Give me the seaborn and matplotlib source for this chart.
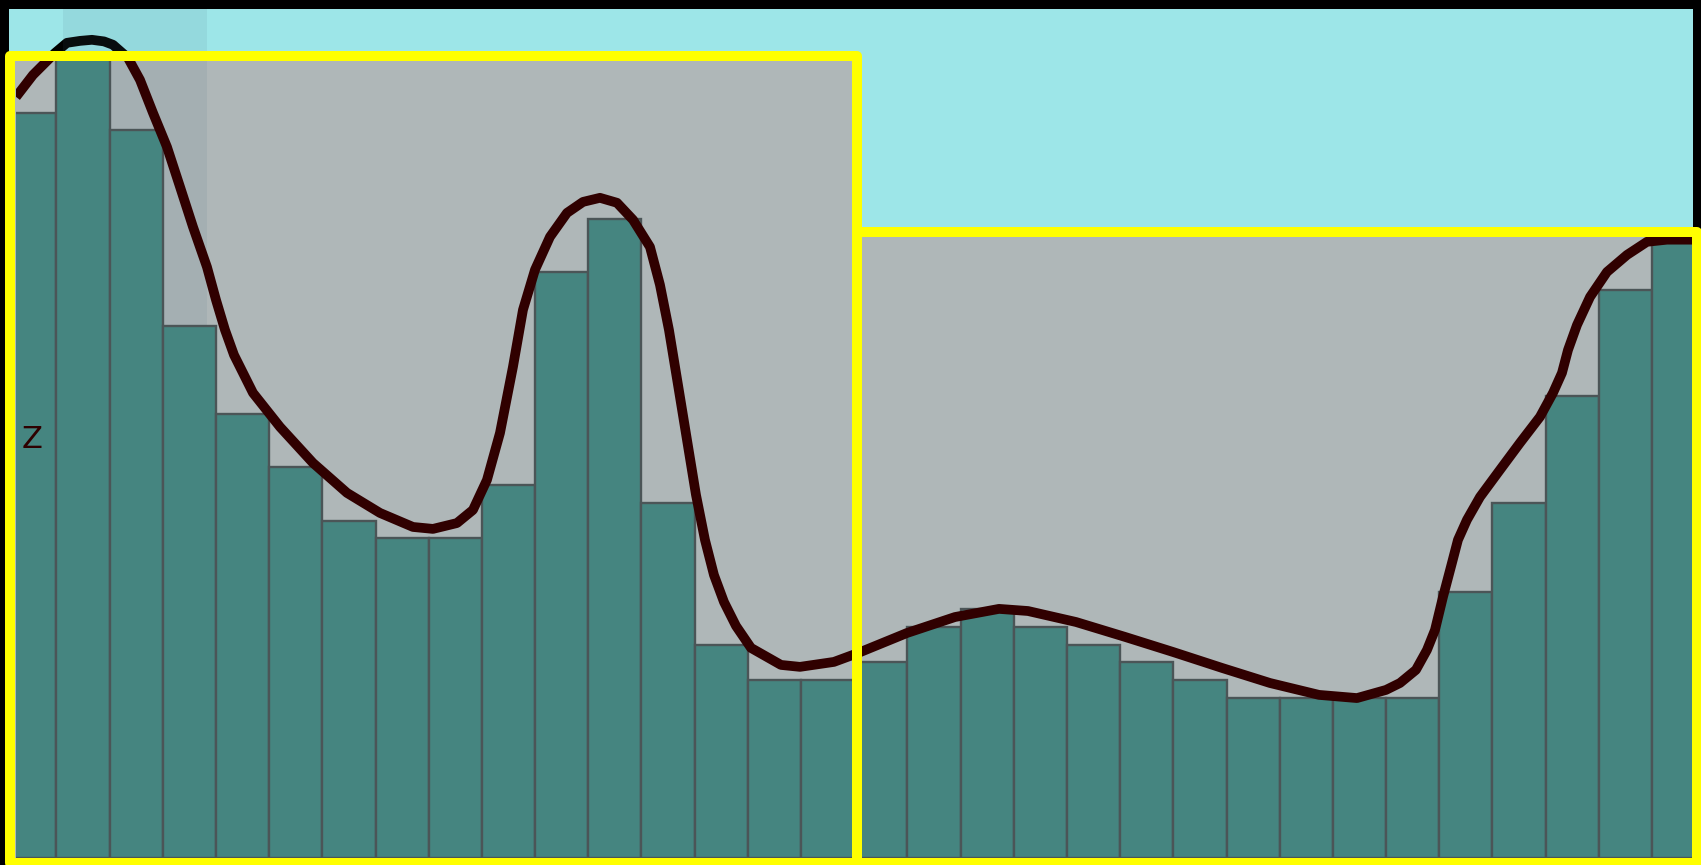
import numpy as np
import pandas as pd
import matplotlib
matplotlib.use("Agg")
import matplotlib.pyplot as plt
import seaborn as sns
from matplotlib.patches import Rectangle

# ---------------- data ----------------
bin_edges = list(range(33))
bin_centers = [i + 0.5 for i in range(32)]
counts = [42, 47, 41, 30, 25, 22, 19, 18, 18, 21, 33, 36, 20, 12, 10, 10,
          11, 13, 14, 13, 12, 11, 10, 9, 9, 9, 9, 15, 20, 26, 32, 34.7]

kde_x = [0.241, 0.560, 0.974, 1.199, 1.444, 1.669, 1.895, 2.064, 2.346, 2.572,
         2.816, 3.079, 3.324, 3.568, 3.831, 4.001, 4.170, 4.339, 4.696, 5.204,
         5.824, 6.464, 7.084, 7.704, 8.080, 8.531, 8.832, 9.095, 9.340, 9.584,
         9.772, 9.998, 10.280, 10.600, 10.901, 11.220, 11.540, 11.841, 12.160, 12.348,
         12.517, 12.687, 12.856, 13.025, 13.194, 13.363, 13.551, 13.777, 14.059, 14.623,
         14.980, 15.619, 16.071, 16.992, 17.894, 18.722, 19.267, 20.170, 21.091, 21.993,
         22.915, 23.817, 24.738, 25.452, 25.998, 26.261, 26.561, 26.768, 26.919, 27.069,
         27.238, 27.351, 27.520, 27.765, 28.141, 28.517, 28.893, 29.138, 29.307, 29.420,
         29.589, 29.834, 30.153, 30.529, 30.905, 31.281, 31.770]
kde_y = [42.89, 44.13, 45.37, 45.94, 46.05, 46.11, 46.02, 45.83, 45.09, 43.85,
         41.99, 40.07, 37.82, 35.56, 33.30, 31.44, 29.75, 28.34, 26.20, 24.28,
         22.25, 20.56, 19.43, 18.64, 18.53, 18.86, 19.60, 21.29, 23.94, 27.67,
         30.88, 33.14, 35.00, 36.35, 36.97, 37.20, 36.92, 35.96, 34.43, 32.29,
         29.75, 26.65, 23.55, 20.45, 17.91, 15.93, 14.41, 13.06, 11.82, 10.86,
         10.75, 11.03, 11.53, 12.66, 13.56, 14.02, 13.90, 13.28, 12.44, 11.59,
         10.69, 9.84, 9.17, 8.99, 9.45, 9.84, 10.58, 11.70, 12.83, 14.69,
         16.61, 17.91, 19.04, 20.33, 21.86, 23.38, 24.85, 26.20, 27.33, 28.62,
         30.03, 31.61, 33.02, 33.98, 34.72, 34.84, 34.84]

y_label = "Z"

# ---------------- style ----------------
sns.set_style("white")
CYAN = "#9de6e8"
GRAY = "#afb7b8"
YELLOW = "#ffff00"
BAR = "#458580"
BAR_EDGE = "#4b5557"
CURVE = "#300000"

fig = plt.figure(figsize=(17.01, 8.65), dpi=100)
fig.patch.set_facecolor(CYAN)
fig.patch.set_edgecolor("black")
fig.patch.set_linewidth(12.2)

ax = fig.add_axes([16 / 1701, 7.5 / 865, 1677 / 1701, 798 / 865])
ax.set_facecolor("none")

# shaded regions (fill below bars, yellow outline on top)
regions = [((0.128, 16.06), 45.17), ((16.06, 31.84), 35.26)]
base = -0.31
for (x0, x1), top in regions:
    ax.add_patch(Rectangle((x0, base), x1 - x0, top - base, facecolor=GRAY,
                           edgecolor="none", zorder=0.5, clip_on=False))
    ax.add_patch(Rectangle((x0, base), x1 - x0, top - base, fill=False,
                           edgecolor=YELLOW, linewidth=7.2, joinstyle="round",
                           zorder=10, clip_on=False))

# faint translucent overlay in the upper left
ax.add_patch(Rectangle((1.124, 29.75), 2.71, 18.1, facecolor="#4f7186",
                       edgecolor="none", alpha=0.11, zorder=0.6, clip_on=False))

LW = 7.0
# unclipped dark shadow of the curve (visible only outside the shaded area)
sns.lineplot(x=kde_x, y=kde_y, sort=False, estimator=None, color="black",
             linewidth=LW, ax=ax)
shadow = ax.lines[-1]
shadow.set_clip_on(False)
shadow.set_zorder(0.3)
shadow.set_solid_joinstyle("round")
shadow.set_solid_capstyle("butt")

# histogram bars
sns.histplot(x=bin_centers, weights=counts, bins=bin_edges, color=BAR,
             edgecolor=BAR_EDGE, linewidth=1.7, alpha=1, ax=ax, zorder=2)

# density curve
sns.lineplot(x=kde_x, y=kde_y, sort=False, estimator=None, color=CURVE,
             linewidth=LW, ax=ax)
curve = ax.lines[-1]
curve.set_zorder(3)
curve.set_solid_joinstyle("round")
curve.set_solid_capstyle("butt")

ax.set_xlim(0.2406, 31.77)
ax.set_ylim(0, 45.0)
ax.set_xticks([])
ax.set_yticks([])
ax.set_xlabel("")
for s in ax.spines.values():
    s.set_visible(False)

ax.set_ylabel(y_label, rotation=0, fontsize=22, color="#2e0000",
              family="DejaVu Sans", ha="center", va="center")
ax.yaxis.set_label_coords(0.00936, 0.5238)
ax.yaxis.set_zorder(5)

fig.savefig("out.png", dpi=100, facecolor=fig.get_facecolor(),
            edgecolor=fig.get_edgecolor())
